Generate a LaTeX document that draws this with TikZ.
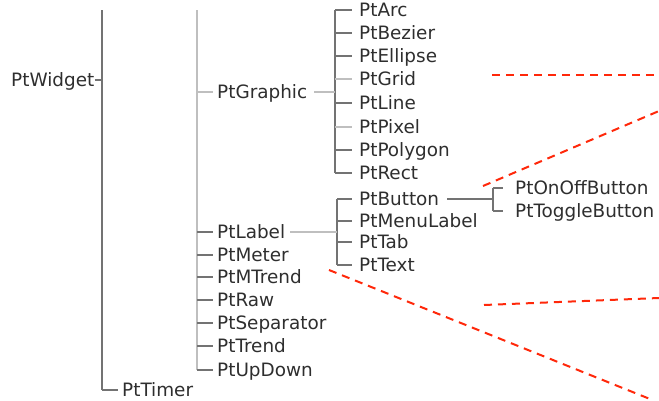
\documentclass[tikz,border=0pt]{standalone}
\usepackage{fontspec}
\setmainfont{DejaVu Sans}
\begin{document}
\begin{tikzpicture}[x=1pt,y=-1pt,
  lbl/.style={anchor=west,inner sep=0pt,text height=13.4pt,text depth=0pt,text=black!82,font=\fontsize{18.4}{21}\selectfont},
  dk/.style={draw=black!55,line width=1.4pt},
  lt/.style={draw=black!25,line width=2.8pt},
  red/.style={draw={rgb,255:red,255;green,40;blue,10},line width=2pt,dash pattern=on 8pt off 6pt}]
\useasboundingbox (0,0) rectangle (659,400);
% trunk coordinates
\coordinate (tAtop) at (102,10); \coordinate (tAbot) at (102,390);
\coordinate (tBtop) at (197,10); \coordinate (tBbot) at (197,370);
\coordinate (tCtop) at (335,10); \coordinate (tCbot) at (335,173);
\coordinate (tDtop) at (337,199); \coordinate (tDbot) at (337,265);
\coordinate (tEtop) at (493,188); \coordinate (tEbot) at (493,211);
% nodes
\node[lbl] (pw) at (11,80) {PtWidget};
\node[lbl] (ptimer) at (122,390) {PtTimer};
\node[lbl] (pgraphic) at (217,92) {PtGraphic};
\node[lbl] (plabel) at (217,232) {PtLabel};
\node[lbl] (pmeter) at (217,255) {PtMeter};
\node[lbl] (pmtrend) at (217,277) {PtMTrend};
\node[lbl] (praw) at (217,300) {PtRaw};
\node[lbl] (psep) at (217,323) {PtSeparator};
\node[lbl] (ptrend) at (217,346) {PtTrend};
\node[lbl] (pupdown) at (217,370) {PtUpDown};
\node[lbl] (parc) at (359,10) {PtArc};
\node[lbl] (pbezier) at (359,33) {PtBezier};
\node[lbl] (pellipse) at (359,56) {PtEllipse};
\node[lbl] (pgrid) at (359,79) {PtGrid};
\node[lbl] (pline) at (359,103) {PtLine};
\node[lbl] (ppixel) at (359,127) {PtPixel};
\node[lbl] (ppolygon) at (359,150) {PtPolygon};
\node[lbl] (prect) at (359,173) {PtRect};
\node[lbl] (pbutton) at (359,199) {PtButton};
\node[lbl] (pmenulabel) at (359,221) {PtMenuLabel};
\node[lbl] (ptab) at (359,242) {PtTab};
\node[lbl] (ptext) at (359,265) {PtText};
\node[lbl] (ponoff) at (515,188) {PtOnOffButton};
\node[lbl] (ptoggle) at (515,211) {PtToggleButton};
% trunks
\draw[dk] (tAtop) -- (tAbot);
\draw[lt] (tBtop) -- (tBbot);
\draw[dk] (tCtop) -- (tCbot);
\draw[dk] (tDtop) -- (tDbot);
\draw[dk] (tEtop) -- (tEbot);
% level 0
\draw[dk] ([xshift=0pt]pw.east) -- (pw.east -| tAtop);
\draw[dk] (tAtop |- ptimer.west) -- ([xshift=-4pt]ptimer.west);
% level 1
\draw[lt] (tBtop |- pgraphic.west) -- ([xshift=-4pt]pgraphic.west);
\foreach \n in {plabel,pmeter,pmtrend,praw,psep,ptrend,pupdown}
  \draw[dk] (tBtop |- \n.west) -- ([xshift=-4pt]\n.west);
\draw[lt] ([xshift=7pt]pgraphic.east) -- (pgraphic.east -| tCtop);
\draw[lt] ([xshift=5pt]plabel.east) -- (plabel.east -| tDtop);
% level 2
\foreach \n in {parc,pbezier,pellipse,pline,ppolygon,prect}
  \draw[dk] (tCtop |- \n.west) -- ([xshift=-7pt]\n.west);
\foreach \n in {pgrid,ppixel}
  \draw[lt] (tCtop |- \n.west) -- ([xshift=-7pt]\n.west);
\foreach \n in {pbutton,pmenulabel,ptab,ptext}
  \draw[dk] (tDtop |- \n.west) -- ([xshift=-7pt]\n.west);
\draw[dk] ([xshift=8pt]pbutton.east) -- (pbutton.east -| tEtop);
% level 3
\foreach \n in {ponoff,ptoggle}
  \draw[dk] (tEtop |- \n.west) -- ([xshift=-12pt]\n.west);
% red dashed lines
\coordinate (r1a) at (492,75); \coordinate (r1b) at (656,75);
\coordinate (r2a) at (483,186); \coordinate (r2b) at (659,111);
\coordinate (r3a) at (484,305); \coordinate (r3b) at (659,298);
\coordinate (r4a) at (329,270); \coordinate (r4b) at (650,399);
\draw[red] (r1a) -- (r1b);
\draw[red] (r2a) -- (r2b);
\draw[red] (r3a) -- (r3b);
\draw[red] (r4a) -- (r4b);
\end{tikzpicture}
\end{document}
